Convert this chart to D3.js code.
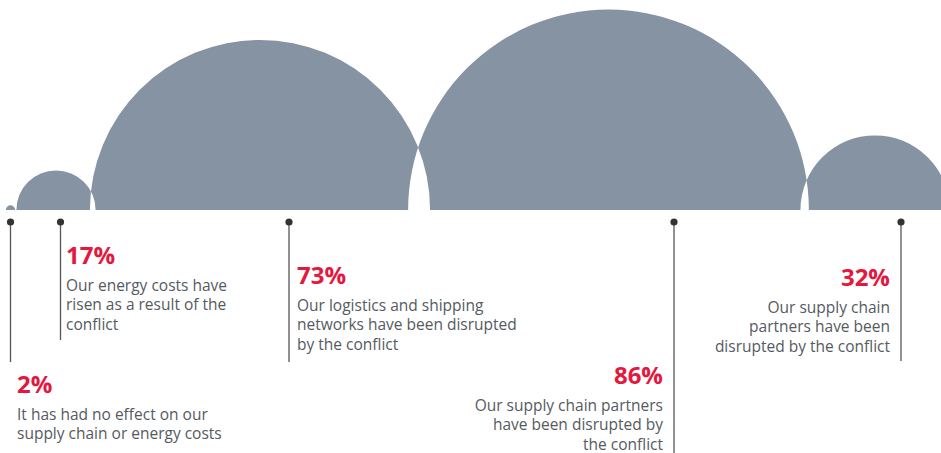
<!DOCTYPE html>
<html>
<head>
<meta charset="utf-8">
<script src="https://cdn.jsdelivr.net/npm/d3@7"></script>
<style>
  html, body { margin: 0; padding: 0; background: #fff; }
  svg { display: block; }
</style>
</head>
<body>
<svg id="chart" width="941" height="453"></svg>
<script>
// ---- data ----
const labels = ["2%", "17%", "73%", "86%", "32%"];
const values = [2, 17, 73, 86, 32];
const descriptions = [
  ["It has had no effect on our", "supply chain or energy costs"],
  ["Our energy costs have", "risen as a result of the", "conflict"],
  ["Our logistics and shipping", "networks have been disrupted", "by the conflict"],
  ["Our supply chain partners", "have been disrupted by", "the conflict"],
  ["Our supply chain", "partners have been", "disrupted by the conflict"]
];

// ---- layout (positions / styles, not data) ----
const W = 941, H = 453;
const baseY = 210;
const circleX = [10.5, 56, 260, 608.5, 875];
const markerX = [10.5, 60.5, 289, 674, 901];
const lineEnd = [362, 340, 362, 453, 361];
const labelX = [17, 66, 297, 663, 890];
const labelAnchor = ["start", "start", "start", "end", "end"];
const titleBase = [393, 264, 284, 384, 286];
const grey = "#8593a3";
const red = "#e4173e";
const textCol = "#555a5f";

const svg = d3.select("#chart");
const r = d3.scaleLinear().domain([0, 100]).range([0, 233]);

// semicircles, overlapping areas knocked out with even-odd fill
const p = d3.path();
values.forEach((v, i) => {
  const rad = r(v), cx = circleX[i];
  p.moveTo(cx - rad, baseY);
  p.arc(cx, baseY, rad, Math.PI, 2 * Math.PI, false);
  p.closePath();
});
svg.append("path")
  .attr("d", p.toString())
  .attr("fill", grey)
  .attr("fill-rule", "evenodd");

const g = svg.append("g").selectAll("g")
  .data(values.map((v, i) => ({ v, i })))
  .join("g");

g.append("line")
  .attr("x1", d => markerX[d.i]).attr("x2", d => markerX[d.i])
  .attr("y1", baseY + 12).attr("y2", d => lineEnd[d.i])
  .attr("stroke", "#555").attr("stroke-width", 1.3);

g.append("circle")
  .attr("cx", d => markerX[d.i]).attr("cy", baseY + 12)
  .attr("r", 3.6).attr("fill", "#333");

g.append("text")
  .attr("x", d => labelX[d.i]).attr("y", d => titleBase[d.i])
  .attr("text-anchor", d => labelAnchor[d.i])
  .attr("font-family", "'Open Sans', sans-serif")
  .attr("font-weight", 700)
  .attr("font-size", 24)
  .attr("fill", red)
  .text(d => labels[d.i]);

g.each(function(d) {
  const t = d3.select(this).append("text")
    .attr("text-anchor", labelAnchor[d.i])
    .attr("font-family", "'Open Sans', sans-serif")
    .attr("font-size", 15.5)
    .attr("fill", textCol);
  descriptions[d.i].forEach((line, k) => {
    t.append("tspan")
      .attr("x", labelX[d.i])
      .attr("y", titleBase[d.i] + 27 + k * 19.3)
      .text(line);
  });
});
</script>
</body>
</html>
